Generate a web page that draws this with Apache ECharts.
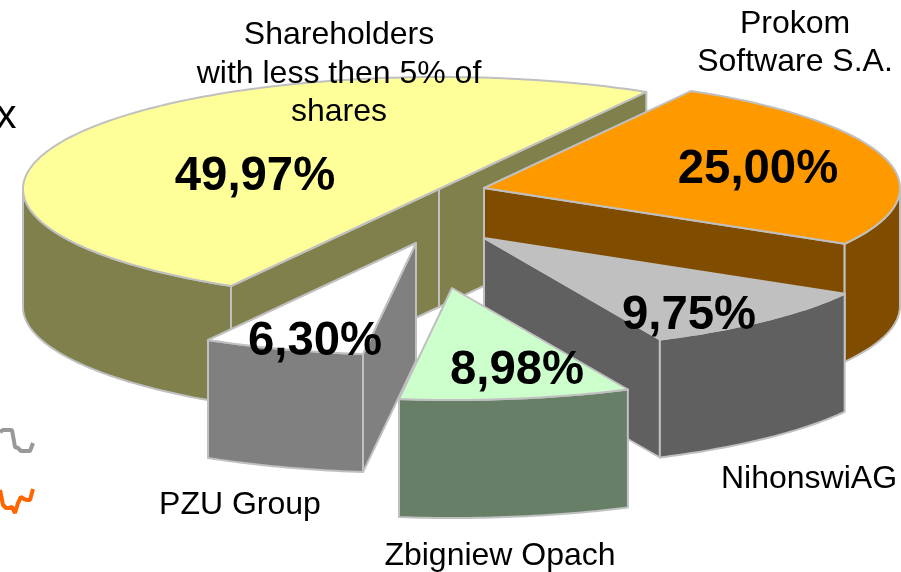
<!DOCTYPE html>
<html>
<head>
<meta charset="utf-8">
<style>
  html, body { margin: 0; padding: 0; background: #fff; }
  #chart { width: 901px; height: 572px; }
</style>
<script src="https://cdn.jsdelivr.net/npm/echarts@6/dist/echarts.min.js"></script>
</head>
<body>
<div id="chart"></div>
<script>
// shares, in drawing order (back slice first, going round clockwise)
const holders = ['Shareholders with less then 5% of shares', 'Prokom Software S.A.', 'NihonswiAG', 'Zbigniew Opach', 'PZU Group']
const shares = [49.97, 25.0, 9.75, 8.98, 6.3]

// the two bits of line chart cut off at the left edge
const stubX = [0, 1, 2, 3, 4, 5, 6, 7, 8, 9, 10, 11]
const greyStub = [88, 90, 90, 90, 90, 73, 72, 69, 69, 69, 69, 77]
const orangeStub = [30, 15, 12, 12, 13, 7, 17, 23, 21, 20, 20, 31]

// layout of the exploded pie, one entry per slice
const apex = [[439, 189], [484, 188], [484, 238], [452, 288], [416, 243]]
const topColor = ['#FFFF99', '#FF9900', '#C0C0C0', '#CCFFCC', '#FFFFFF']
const sideColor = ['#80804D', '#804D00', '#606060', '#667F66', '#808080']
const percentPos = [[255, 177], [758, 170], [689, 316], [517, 371], [315, 342]]
const rx = 416
const ry = 112
const depth = 118
const startDeg = 120
const edge = { stroke: '#C0C0C0', lineWidth: 2, lineJoin: 'round' }

const outerLabels = [
  { text: 'Shareholders\nwith less then 5% of\nshares', x: 339, y: 74 },
  { text: 'Prokom\nSoftware S.A.', x: 795, y: 43 },
  { text: 'NihonswiAG', x: 809, y: 479 },
  { text: 'Zbigniew Opach', x: 500, y: 556 },
  { text: 'PZU Group', x: 240, y: 505 },
]

const total = shares.reduce((a, b) => a + b, 0)
const rad = (d) => (d * Math.PI) / 180

function onEllipse(c, deg) {
  return [c[0] + rx * Math.cos(rad(deg)), c[1] + ry * Math.sin(rad(deg))]
}

function arcPoints(c, from, to) {
  let pts = []
  let n = Math.max(2, Math.ceil(Math.abs(to - from)))
  for (let i = 0; i <= n; i++) {
    pts.push(onEllipse(c, from + ((to - from) * i) / n))
  }
  return pts
}

function down(p) {
  return [p[0], p[1] + depth]
}

function wall(pts, fill) {
  return {
    type: 'polygon',
    shape: { points: pts.concat(pts.slice().reverse().map(down)) },
    style: { fill, ...edge },
  }
}

function renderSlice(params, api) {
  let i = params.dataIndex
  let before = 0
  for (let k = 0; k < i; k++) before += shares[k]
  let from = startDeg + (before / total) * 360
  let to = from + (api.value(0) / total) * 360
  let c = apex[i]
  let children = []

  // radial walls, only the ones that face the viewer
  if (Math.cos(rad(from)) < 0) children.push(wall([c, onEllipse(c, from)], sideColor[i]))
  if (Math.cos(rad(to)) > 0) children.push(wall([c, onEllipse(c, to)], sideColor[i]))

  // curved wall, only the front half of the ellipse shows
  for (let turn = -360; turn <= 360; turn += 360) {
    let a = Math.max(from, turn)
    let b = Math.min(to, turn + 180)
    if (b > a) children.push(wall(arcPoints(c, a, b), sideColor[i]))
  }

  children.push({
    type: 'polygon',
    shape: { points: [c].concat(arcPoints(c, from, to)) },
    style: { fill: topColor[i], ...edge },
  })
  children.push({
    type: 'text',
    z2: 100,
    style: {
      text: api.value(0).toFixed(2).replace('.', ',') + '%',
      x: percentPos[i][0],
      y: percentPos[i][1],
      align: 'center',
      verticalAlign: 'middle',
      font: 'bold 47.3px "Liberation Sans", Arial, sans-serif',
      fill: '#000',
    },
  })
  return { type: 'group', children }
}

const chart = echarts.init(document.getElementById('chart'), null, { renderer: 'canvas' })
chart.setOption({
  animation: false,
  backgroundColor: '#fff',
  grid: { left: 0, top: 420, width: 33, height: 100 },
  xAxis: { type: 'category', data: stubX, show: false, boundaryGap: false },
  yAxis: { type: 'value', min: 0, max: 100, show: false },
  graphic: outerLabels
    .map((l) => ({
      type: 'text',
      z: 10,
      style: {
        text: l.text,
        x: l.x,
        y: l.y,
        align: 'center',
        verticalAlign: 'middle',
        font: '32px "Liberation Sans", Arial, sans-serif',
        lineHeight: 38.5,
        fill: '#000',
      },
    }))
    .concat([
      {
        type: 'text',
        z: 10,
        style: {
          text: 'x',
          x: -4,
          y: 117,
          align: 'left',
          verticalAlign: 'middle',
          font: '41px "Liberation Sans", Arial, sans-serif',
          fill: '#000',
        },
      },
    ]),
  series: [
    {
      type: 'custom',
      coordinateSystem: 'none',
      data: shares.map((v, i) => ({ name: holders[i], value: [v] })),
      renderItem: renderSlice,
      silent: true,
    },
    {
      type: 'line',
      data: greyStub,
      symbol: 'none',
      silent: true,
      lineStyle: { color: '#999999', width: 4 },
    },
    {
      type: 'line',
      data: orangeStub,
      symbol: 'none',
      silent: true,
      lineStyle: { color: '#FF6600', width: 4 },
    },
  ],
})
</script>
</body>
</html>
